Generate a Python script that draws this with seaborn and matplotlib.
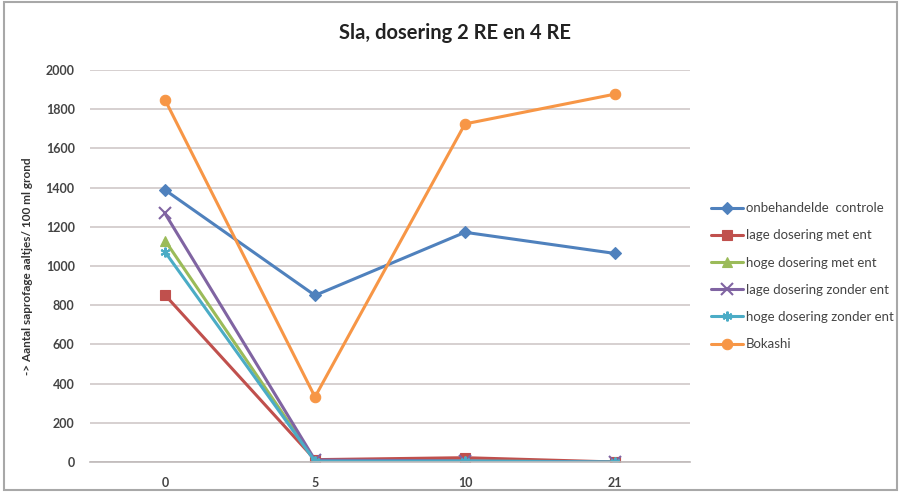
import matplotlib
matplotlib.use("Agg")
import matplotlib.pyplot as plt
import seaborn as sns
import pandas as pd
from matplotlib.patches import Rectangle

days = ["0", "5", "10", "21"]
series_names = [
    "onbehandelde  controle",
    "lage dosering met ent",
    "hoge dosering met ent",
    "lage dosering zonder ent",
    "hoge dosering zonder ent",
    "Bokashi",
]
onbehandeld = [1388, 850, 1172, 1064]
lage_met = [852, 12, 22, 0]
hoge_met = [1130, 6, 6, 0]
lage_zonder = [1268, 10, 6, 0]
hoge_zonder = [1072, 4, 4, 0]
bokashi = [1848, 332, 1725, 1877]

values = [onbehandeld, lage_met, hoge_met, lage_zonder, hoge_zonder, bokashi]
colors = ["#4F81BD", "#C0504D", "#9BBB59", "#8064A2", "#4BACC6", "#F79646"]
markers = ["D", "s", "^", "x", (6, 2, 0), "o"]
msizes = [6, 7, 7, 8, 7, 7.5]

sns.set_theme(style="white")
plt.rcParams["font.family"] = ["Lato", "DejaVu Sans"]

fig = plt.figure(figsize=(8.99, 4.92), dpi=100)
ax = fig.add_axes([90 / 899, 30 / 492, 600 / 899, 392 / 492])

for name, vals, c, m, ms in zip(series_names, values, colors, markers, msizes):
    df = pd.DataFrame({"pos": range(len(days)), "val": vals})
    sns.lineplot(data=df, x="pos", y="val", ax=ax, color=c, marker=m,
                 markersize=ms, markeredgecolor=c, markerfacecolor=c,
                 markeredgewidth=1.5 if m in ("x",) or isinstance(m, tuple) else 0.8,
                 linewidth=2.2, label=name)

ax.set_xlim(-0.5, len(days) - 0.5)
ax.set_ylim(0, 2000)
ax.set_yticks(range(0, 2001, 200))
ax.set_xticks(range(len(days)))
ax.set_xticklabels(days)
ax.yaxis.grid(True, color="#CFC8C8", linewidth=1.2)
ax.xaxis.grid(False)
for s in ["top", "right", "left"]:
    ax.spines[s].set_visible(False)
ax.spines["bottom"].set_color("#BFBABA")
ax.spines["bottom"].set_linewidth(1.2)
ax.tick_params(axis="both", length=0, labelsize=9, colors="#444444")
for lab in ax.get_xticklabels() + ax.get_yticklabels():
    lab.set_fontweight("bold")
ax.tick_params(axis="y", pad=11)
ax.tick_params(axis="x", pad=11)
ax.set_xlabel("")
ax.set_ylabel("-> Aantal saprofage aaltjes/ 100 ml grond", fontsize=8.5,
              fontweight="bold", color="#333333", labelpad=9)

fig.text(455 / 899, 1 - 33 / 492, "Sla, dosering 2 RE en 4 RE", ha="center",
         va="center", fontsize=14.5, fontweight="bold", color="#222222")

leg = ax.legend(loc="upper left", bbox_to_anchor=(706 / 899, 1 - 197 / 492),
                bbox_transform=fig.transFigure, frameon=False, fontsize=9.5,
                handlelength=2.4, handletextpad=0.2, labelspacing=1.15,
                borderaxespad=0)
for t in leg.get_texts():
    t.set_color("#444444")

fig.patches.append(Rectangle((4 / 899, 2 / 492), 893 / 899, 488 / 492,
                             transform=fig.transFigure, fill=False,
                             edgecolor="#A8A8A8", linewidth=1.5))

fig.savefig("out.png", dpi=100)
